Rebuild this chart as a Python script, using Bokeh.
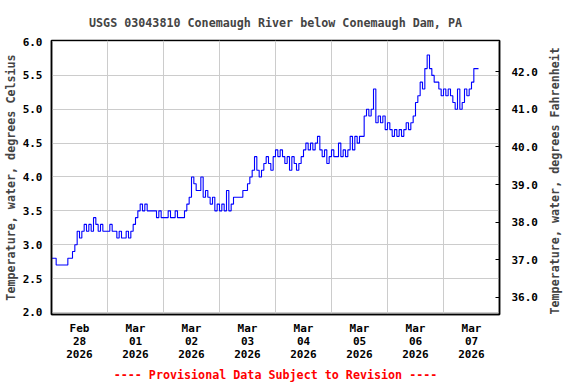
import math
from bokeh.plotting import figure
from bokeh.models import Range1d, LinearAxis, FixedTicker, Title, PrintfTickFormatter
from bokeh.embed import file_html
from bokeh.resources import INLINE

# ---------------- data ----------------
title_text = "USGS 03043810 Conemaugh River below Conemaugh Dam, PA"
y_label_c = "Temperature, water, degrees Celsius"
y_label_f = "Temperature, water, degrees Fahrenheit"
footer_text = "---- Provisional Data Subject to Revision ----"

day_label_pos = [0.5, 1.5, 2.5, 3.5, 4.5, 5.5, 6.5, 7.5]
day_labels = ["Feb\n28\n2026", "Mar\n01\n2026", "Mar\n02\n2026", "Mar\n03\n2026",
              "Mar\n04\n2026", "Mar\n05\n2026", "Mar\n06\n2026", "Mar\n07\n2026"]
midnights = [1, 2, 3, 4, 5, 6, 7]
celsius_ticks = [2.0, 2.5, 3.0, 3.5, 4.0, 4.5, 5.0, 5.5, 6.0]
fahrenheit_ticks = [36, 37, 38, 39, 40, 41, 42]

# hourly water temperature, degrees Celsius, starting Feb 28 00:00
feb28 = [2.8, 2.8, 2.7, 2.7, 2.7, 2.7, 2.7, 2.8, 2.8, 2.9, 3.0, 3.2,
         3.1, 3.2, 3.3, 3.2, 3.3, 3.2, 3.4, 3.3, 3.2, 3.3, 3.2, 3.2]
mar01 = [3.2, 3.3, 3.2, 3.2, 3.1, 3.2, 3.1, 3.1, 3.2, 3.1, 3.2, 3.3,
         3.4, 3.5, 3.6, 3.5, 3.6, 3.5, 3.5, 3.5, 3.5, 3.4, 3.5, 3.4]
mar02 = [3.4, 3.4, 3.5, 3.4, 3.4, 3.5, 3.4, 3.4, 3.4, 3.5, 3.6, 3.7,
         4.0, 3.9, 3.8, 3.8, 4.0, 3.7, 3.8, 3.7, 3.6, 3.7, 3.5, 3.6]
mar03 = [3.5, 3.6, 3.5, 3.8, 3.5, 3.6, 3.7, 3.7, 3.7, 3.7, 3.8, 3.8,
         3.9, 4.0, 4.1, 4.3, 4.1, 4.0, 4.1, 4.2, 4.3, 4.2, 4.1, 4.3]
mar04 = [4.4, 4.3, 4.4, 4.3, 4.2, 4.3, 4.1, 4.3, 4.2, 4.1, 4.2, 4.3,
         4.4, 4.5, 4.4, 4.5, 4.4, 4.5, 4.6, 4.4, 4.3, 4.4, 4.2, 4.3]
mar05 = [4.4, 4.3, 4.3, 4.5, 4.3, 4.4, 4.3, 4.4, 4.6, 4.4, 4.6, 4.5,
         4.6, 4.6, 4.9, 5.0, 4.9, 5.0, 5.3, 4.8, 4.9, 4.8, 4.9, 4.7]
mar06 = [4.8, 4.7, 4.6, 4.7, 4.6, 4.7, 4.6, 4.7, 4.8, 4.7, 4.8, 4.9,
         5.1, 5.2, 5.4, 5.3, 5.6, 5.8, 5.6, 5.5, 5.4, 5.4, 5.3, 5.2]
mar07 = [5.3, 5.2, 5.3, 5.2, 5.1, 5.0, 5.3, 5.0, 5.1, 5.3, 5.2, 5.3,
         5.4, 5.6, 5.6, 5.6]

values = feb28 + mar01 + mar02 + mar03 + mar04 + mar05 + mar06 + mar07
days = [h / 24.0 for h in range(len(values))]

# ---------------- figure ----------------
FONT = "DejaVu Sans Mono"
c_start, c_end = 1.97, 6.015

p = figure(width=576, height=384, output_backend="svg", toolbar_location=None,
           x_range=Range1d(0, 8), y_range=Range1d(c_start, c_end),
           min_border_left=51, min_border_right=77, min_border_top=40,
           min_border_bottom=69)
p.background_fill_color = "white"
p.border_fill_color = "white"
p.outline_line_color = "black"
p.outline_line_width = 1.5

p.title.text = title_text
p.title.align = "center"
p.title.text_font = FONT
p.title.text_font_size = "11.7px"
p.title.text_font_style = "bold"
p.title.standoff = 21

p.step(days, values, mode="after", line_color="#0000ff", line_width=1.1)

# x axis
xa = p.xaxis[0]
xa.ticker = FixedTicker(ticks=day_label_pos)
xa.major_label_overrides = {pos: lab for pos, lab in zip(day_label_pos, day_labels)}
xa.major_tick_line_color = None
xa.major_tick_out = 0
xa.major_tick_in = 0
xa.minor_tick_line_color = None
xa.axis_line_color = "black"
xa.axis_line_width = 1.5
xa.major_label_text_font = FONT
xa.major_label_text_font_size = "11px"
xa.major_label_text_font_style = "bold"
xa.major_label_text_color = "black"
xa.major_label_text_line_height = 1.0
xa.major_label_standoff = 7
p.xgrid.ticker = FixedTicker(ticks=midnights)
p.xgrid.grid_line_color = "#cccccc"
p.xgrid.grid_line_width = 1

# left axis
ya = p.yaxis[0]
ya.ticker = FixedTicker(ticks=celsius_ticks)
ya.formatter = PrintfTickFormatter(format="%.1f")
ya.axis_label = y_label_c
ya.axis_label_text_font = FONT
ya.axis_label_text_font_size = "11.7px"
ya.axis_label_text_font_style = "bold"
ya.axis_label_standoff = 2
ya.major_label_text_font = FONT
ya.major_label_text_font_size = "11px"
ya.major_label_text_font_style = "bold"
ya.major_label_text_color = "black"
ya.major_label_standoff = 9
ya.major_tick_line_color = None
ya.major_tick_out = 0
ya.major_tick_in = 0
ya.minor_tick_line_color = None
ya.axis_line_color = "black"
ya.axis_line_width = 1.5
p.ygrid.ticker = FixedTicker(ticks=celsius_ticks)
p.ygrid.grid_line_color = "#cccccc"
p.ygrid.grid_line_width = 1

# right axis (Fahrenheit)
p.extra_y_ranges = {"f": Range1d(c_start * 1.8 + 32, c_end * 1.8 + 32)}
ra = LinearAxis(y_range_name="f", ticker=FixedTicker(ticks=fahrenheit_ticks),
                formatter=PrintfTickFormatter(format="%.1f"))
ra.major_label_text_font = FONT
ra.major_label_text_font_size = "11px"
ra.major_label_text_font_style = "bold"
ra.major_label_text_color = "black"
ra.major_label_standoff = 12
ra.major_tick_in = 4
ra.major_tick_out = 0
ra.major_tick_line_color = "black"
ra.minor_tick_line_color = None
ra.axis_line_color = "black"
ra.axis_line_width = 1.5
ra.axis_label = y_label_f
ra.axis_label_text_font = FONT
ra.axis_label_text_font_size = "11.7px"
ra.axis_label_text_font_style = "bold"
ra.axis_label_standoff = 14
if "axis_label_orientation" in ra.properties():
    ra.axis_label_orientation = math.pi / 2
if "axis_label_align" in ra.properties():
    ra.axis_label_align = "start"
p.add_layout(ra, "right")

footer = Title(text=footer_text, align="center", text_color="red",
               text_font=FONT, text_font_size="11.7px", text_font_style="bold",
               standoff=5)
p.add_layout(footer, "below")

open("out.html", "w").write(file_html(p, INLINE))
